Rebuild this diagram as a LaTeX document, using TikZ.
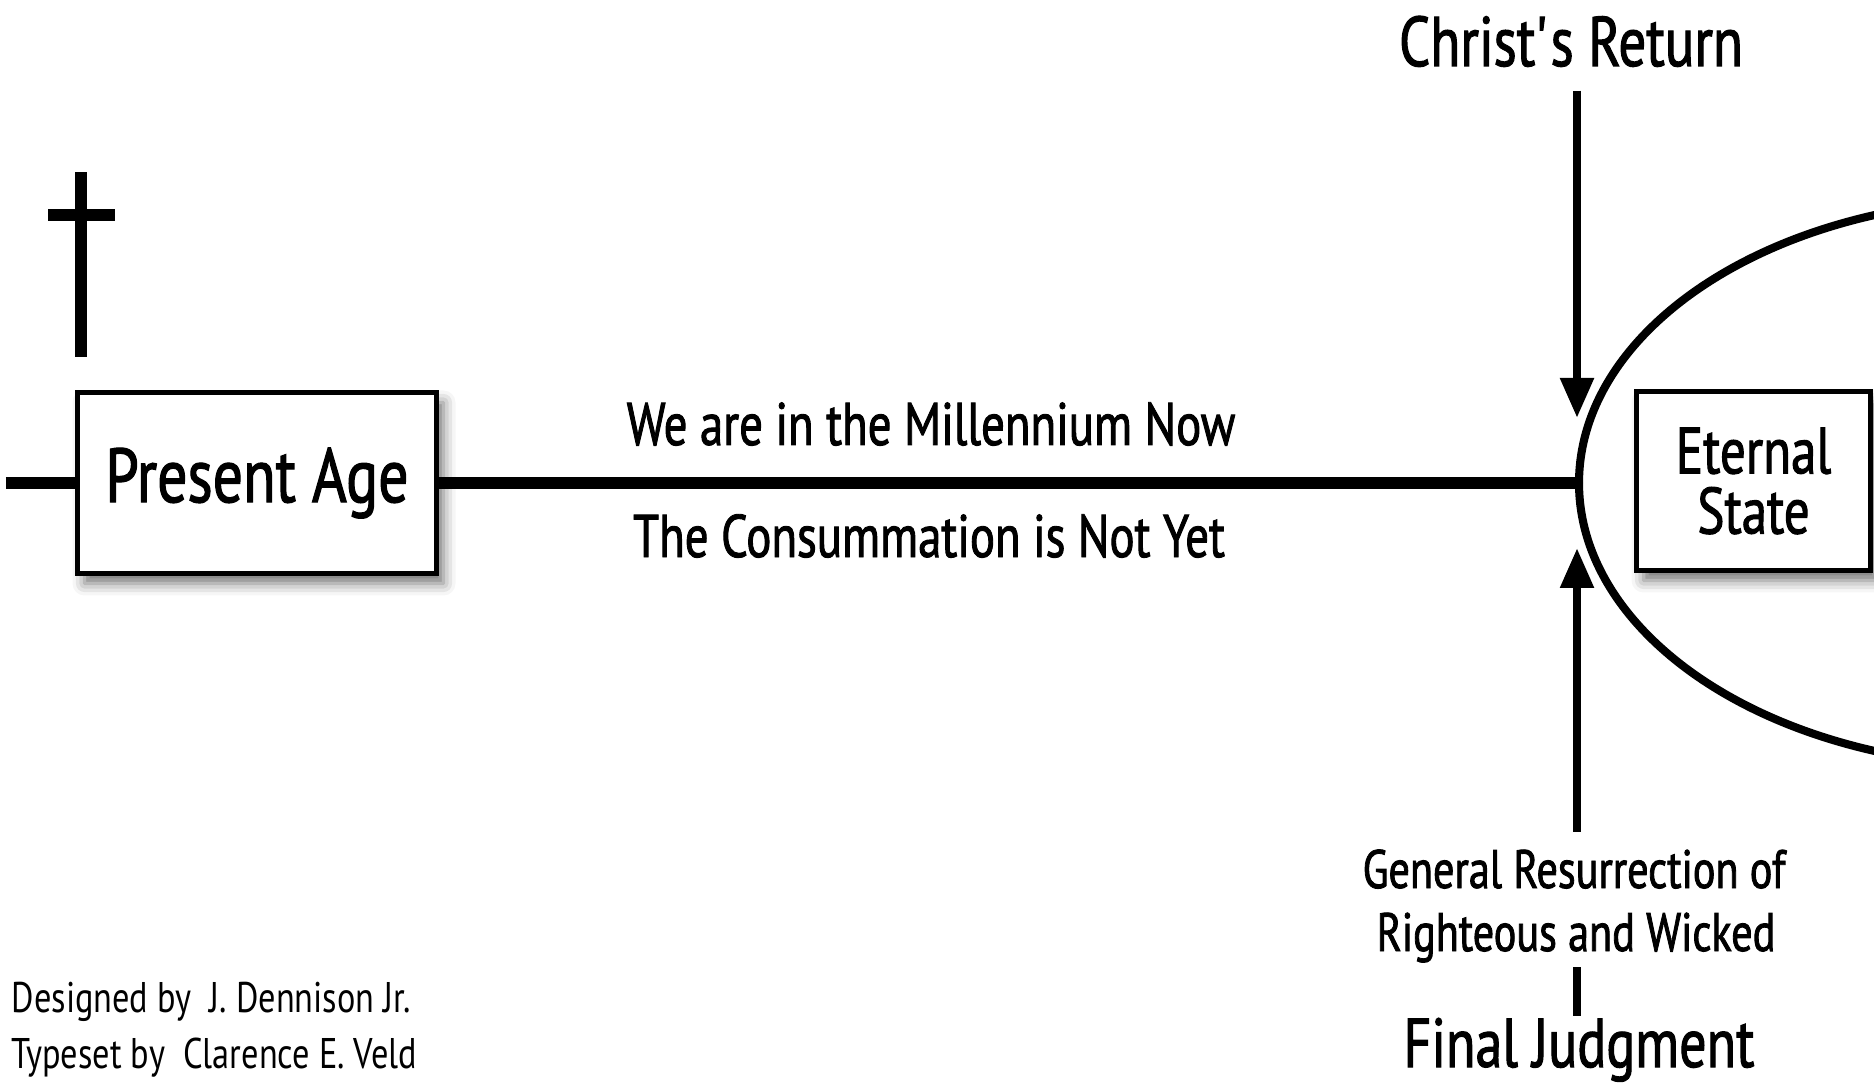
\documentclass[tikz,border=0pt]{standalone}
\usepackage{fontspec}
\setmainfont{PT Sans}[FakeStretch=0.78, FakeBold=1.5]
\newfontfamily\creditfont{PT Sans}[FakeStretch=0.8]
\usetikzlibrary{arrows.meta}
\usetikzlibrary{shadows.blur}

\begin{document}
\begin{tikzpicture}[
    agebox/.style={draw, line width=1.45pt, fill=white, inner sep=0pt, align=center,
      blur shadow={shadow xshift=0.07cm, shadow yshift=-0.1cm, shadow blur radius=0.12cm, shadow opacity=55}},
    txt/.style={inner sep=0pt, anchor=base},
    timeline/.style={line width=3.4pt},
    pointer/.style={line width=2.4pt, -{Triangle[length=0.4cm, width=0.32cm]}},
  ]
  \useasboundingbox (0,0) rectangle (18.74,10.85);

  % cross
  \draw[line width=3.4pt] (0.81,7.28) -- (0.81,9.13);
  \draw[line width=3.6pt] (0.48,8.70) -- (1.15,8.70);

  % the ages
  \node[agebox, minimum width=3.59cm, minimum height=1.81cm, font=\fontsize{21.8}{26}\selectfont] (present) at (2.57,6.02) {Present Age};
  \coordinate (start) at (0.06,6.02);
  \coordinate (vertex) at (15.79,6.02);
  \draw[timeline] (start) -- (present.west);
  \draw[timeline] (present.east) -- (vertex);
  \node[txt, font=\fontsize{17.1}{20}\selectfont] (millennium) at (9.31,6.40) {We are in the Millennium Now};
  \node[txt, font=\fontsize{17.1}{20}\selectfont] (notyet) at (9.29,5.28) {The Consummation is Not Yet};

  % eternal state
  \draw[line width=2.3pt] (vertex) arc[start angle=180, end angle=104, x radius=4.42cm, y radius=2.84cm];
  \draw[line width=2.3pt] (vertex) arc[start angle=180, end angle=256, x radius=4.42cm, y radius=2.84cm];
  \node[agebox, minimum width=2.34cm, minimum height=1.79cm, font=\fontsize{18.6}{17.1}\selectfont] (eternal) at (17.535,6.04) {Eternal\\State};

  % return and judgment
  \node[txt, font=\fontsize{20}{24}\selectfont] (christ) at (15.71,10.19) {Christ\textquotesingle s Return};
  \coordinate (downtip) at (15.77,6.67);
  \draw[pointer, shorten <=0.23cm] (christ.south -| downtip) -- (downtip);
  \node[txt, font=\fontsize{15.4}{18}\selectfont] (resurrection) at (15.74,1.97) {General Resurrection of};
  \node[txt, font=\fontsize{15.4}{18}\selectfont] (wicked) at (15.76,1.34) {Righteous and Wicked};
  \node[txt, font=\fontsize{19.7}{22}\selectfont] (judgment) at (15.79,0.18) {Final Judgment};
  \coordinate (uptip) at (15.77,5.37);
  \draw[pointer, shorten <=0.17cm] (resurrection.north -| uptip) -- (uptip);
  \draw[line width=2.5pt, shorten <=0.04cm, shorten >=0.01cm] (wicked.south -| uptip) -- (judgment.north -| uptip);

  % credits
  \node[txt, anchor=base west, font=\creditfont\fontsize{12.2}{14}\selectfont] (designer) at (0.11,0.73) {Designed by\ \ J. Dennison Jr.};
  \node[txt, anchor=base west, font=\creditfont\fontsize{12.2}{14}\selectfont] (typesetter) at (0.11,0.17) {Typeset by\ \ Clarence E. Veld};
\end{tikzpicture}
\end{document}
